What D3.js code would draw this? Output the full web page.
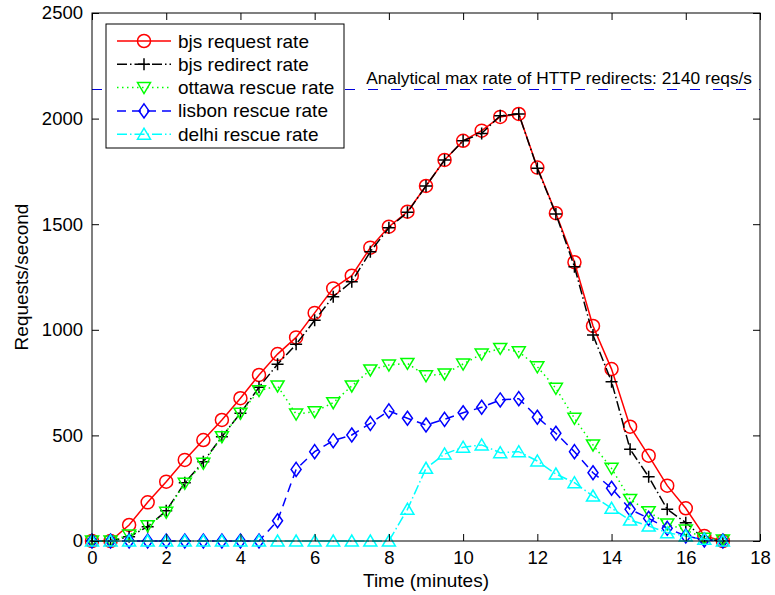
<!DOCTYPE html>
<html lang="en">
<head>
<meta charset="UTF-8">
<title>Request and rescue rates</title>
<style>
  body { margin: 0; background: #fff; }
  text { font-family: "Liberation Sans", Arial, sans-serif; fill: #000; }
</style>
</head>
<body>
<div id="chart"></div>
<script src="https://d3js.org/d3.v7.min.js"></script>
<script>
// time axis (minutes)
const time = [0, 0.5, 1, 1.5, 2, 2.5, 3, 3.5, 4, 4.5, 5, 5.5, 6, 6.5, 7, 7.5, 8, 8.5,
              9, 9.5, 10, 10.5, 11, 11.5, 12, 12.5, 13, 13.5, 14, 14.5, 15, 15.5, 16, 16.5, 17];

const bjsRequest = [0, 0, 76, 183, 281, 384, 478, 573, 676, 786, 885, 964, 1080, 1196, 1256, 1389, 1488, 1559,
                    1681, 1804, 1895, 1943, 2008, 2022, 1768, 1552, 1320, 1018, 814, 541, 404, 262, 155, 24, 0];
const bjsRedirect = [0, 0, 20, 68, 143, 276, 375, 494, 605, 728, 837, 931, 1045, 1157, 1228, 1370, 1483, 1556,
                     1681, 1804, 1895, 1930, 2014, 2022, 1765, 1548, 1299, 975, 754, 434, 304, 150, 87, 8, 0];
const ottawaRescue = [0, 0, 28, 72, 136, 273, 368, 494, 605, 712, 734, 601, 612, 655, 734, 810, 833, 841,
                      782, 791, 838, 885, 912, 896, 825, 723, 581, 455, 344, 197, 139, 80, 52, 13, 5];
const lisbonRescue = [0, 0, 0, 0, 0, 0, 0, 0, 0, 0, 96, 339, 423, 475, 502, 557, 616, 581,
                      549, 576, 607, 633, 668, 674, 586, 510, 423, 323, 250, 150, 107, 60, 24, 5, 0];
const delhiRescue = [0, 0, 0, 0, 0, 0, 0, 0, 0, 0, 0, 0, 0, 0, 0, 0, 0, 150,
                     344, 412, 444, 455, 418, 423, 379, 317, 276, 213, 155, 99, 71, 39, 24, 8, 0];

const seriesNames = ["bjs request rate", "bjs redirect rate", "ottawa rescue rate", "lisbon rescue rate", "delhi rescue rate"];
const xTicks = [0, 2, 4, 6, 8, 10, 12, 14, 16, 18];
const yTicks = [0, 500, 1000, 1500, 2000, 2500];
const maxRate = 2140;
const maxRateLabel = "Analytical max rate of HTTP redirects: 2140 reqs/s";

const series = [
  {name: seriesNames[0], values: bjsRequest,   color: "#ff0000", dash: null,        marker: "circle"},
  {name: seriesNames[1], values: bjsRedirect,  color: "#000000", dash: "10,3,1.5,3", marker: "plus"},
  {name: seriesNames[2], values: ottawaRescue, color: "#00ff00", dash: "1.5,3.5",   marker: "tridown"},
  {name: seriesNames[3], values: lisbonRescue, color: "#0000ff", dash: "9,6",       marker: "diamond"},
  {name: seriesNames[4], values: delhiRescue,  color: "#00ffff", dash: "10,3,1.5,3", marker: "triup"}
];

const W = 775, H = 595;
const plotL = 92, plotR = 760, plotT = 13, plotB = 541;
const fontSize = "19px";

const svg = d3.select("#chart").append("svg")
    .attr("width", W)
    .attr("height", H);

const x = d3.scaleLinear().domain([0, 18]).range([plotL, plotR]);
const y = d3.scaleLinear().domain([0, 2500]).range([plotB, plotT]);

// marker paths, centred on 0,0
function markerPath(type) {
  switch (type) {
    case "circle": {
      const r = 6.5;
      return `M${r},0A${r},${r} 0 1,1 ${-r},0A${r},${r} 0 1,1 ${r},0Z`;
    }
    case "plus":
      return "M-6,0H6M0,-6V6";
    case "tridown":
      return "M-6.5,-5L6.5,-5L0,6Z";
    case "triup":
      return "M-6.5,5L6.5,5L0,-6Z";
    case "diamond":
      return "M0,-7L5,0L0,7L-5,0Z";
  }
}

// max rate line (drawn first, legend box covers it)
const yMax = Math.round(y(maxRate)) + 0.5;
svg.append("line")
    .attr("x1", x(0)).attr("x2", x(18))
    .attr("y1", yMax).attr("y2", yMax)
    .attr("stroke", "#0000dd")
    .attr("stroke-width", 1)
    .attr("stroke-dasharray", "10,13");

svg.append("text")
    .attr("x", 752)
    .attr("y", yMax - 6)
    .attr("text-anchor", "end")
    .style("font-size", "17.3px")
    .text(maxRateLabel);

// lines and markers
const line = d3.line()
    .x((d, i) => x(time[i]))
    .y(d => y(d));

series.forEach(s => {
  svg.append("path")
      .datum(s.values)
      .attr("d", line)
      .attr("fill", "none")
      .attr("stroke", s.color)
      .attr("stroke-width", 1.5)
      .attr("stroke-dasharray", s.dash);

  svg.append("g")
    .selectAll("path")
    .data(s.values)
    .join("path")
      .attr("transform", (d, i) => `translate(${x(time[i])},${y(d)})`)
      .attr("d", markerPath(s.marker))
      .attr("fill", "none")
      .attr("stroke", s.color)
      .attr("stroke-width", 1.5);
});

// axes box with inward ticks on all sides
const tickLen = 7;
svg.append("g")
    .attr("transform", `translate(0,${plotB})`)
    .call(d3.axisBottom(x).tickValues(xTicks).tickSizeInner(-tickLen).tickSizeOuter(0).tickPadding(10))
    .call(g => g.select(".domain").remove());
svg.append("g")
    .attr("transform", `translate(0,${plotT})`)
    .call(d3.axisTop(x).tickValues(xTicks).tickSizeInner(-tickLen).tickSizeOuter(0).tickFormat(""))
    .call(g => g.select(".domain").remove());
svg.append("g")
    .attr("transform", `translate(${plotL},0)`)
    .call(d3.axisLeft(y).tickValues(yTicks).tickFormat(d3.format("d"))
      .tickSizeInner(-tickLen).tickSizeOuter(0).tickPadding(9))
    .call(g => g.select(".domain").remove());
svg.append("g")
    .attr("transform", `translate(${plotR},0)`)
    .call(d3.axisRight(y).tickValues(yTicks).tickSizeInner(-tickLen).tickSizeOuter(0).tickFormat(""))
    .call(g => g.select(".domain").remove());

svg.selectAll(".tick text")
    .style("font-size", "18.5px")
    .style("font-family", "'Liberation Sans', Arial, sans-serif")
    .attr("fill", "#000");
svg.selectAll(".tick line").attr("stroke", "#000");

svg.append("rect")
    .attr("x", plotL).attr("y", plotT)
    .attr("width", plotR - plotL).attr("height", plotB - plotT)
    .attr("fill", "none")
    .attr("stroke", "#000")
    .attr("stroke-width", 1);

// axis labels
svg.append("text")
    .attr("x", (plotL + plotR) / 2)
    .attr("y", 587)
    .attr("text-anchor", "middle")
    .style("font-size", fontSize)
    .text("Time (minutes)");

svg.append("text")
    .attr("transform", `translate(28,${(plotT + plotB) / 2}) rotate(-90)`)
    .attr("text-anchor", "middle")
    .style("font-size", fontSize)
    .text("Requests/second");

// legend
const legend = svg.append("g");
legend.append("rect")
    .attr("x", 106).attr("y", 24)
    .attr("width", 238).attr("height", 124)
    .attr("fill", "#fff")
    .attr("stroke", "#000")
    .attr("stroke-width", 1);

series.forEach((s, i) => {
  const ly = 41 + i * 23.3;
  legend.append("line")
      .attr("x1", 117).attr("x2", 171)
      .attr("y1", ly).attr("y2", ly)
      .attr("stroke", s.color)
      .attr("stroke-width", 1.5)
      .attr("stroke-dasharray", s.dash);
  legend.append("path")
      .attr("transform", `translate(144,${ly})`)
      .attr("d", markerPath(s.marker))
      .attr("fill", "none")
      .attr("stroke", s.color)
      .attr("stroke-width", 1.5);
  legend.append("text")
      .attr("x", 178)
      .attr("y", ly + 6.5)
      .style("font-size", fontSize)
      .text(s.name);
});
</script>
</body>
</html>
